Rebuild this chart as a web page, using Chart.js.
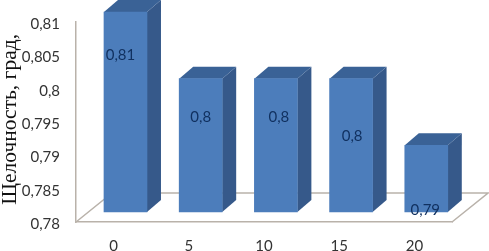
<!DOCTYPE html>
<html><head><meta charset="utf-8">
<style>html,body{margin:0;padding:0;background:#fff}canvas{display:block}</style>
<script src="https://cdn.jsdelivr.net/npm/chart.js@4"></script></head>
<body><canvas id="c" width="489" height="251" style="width:489px;height:251px"></canvas>
<script>
const categories = [0, 5, 10, 15, 20];
const values = [0.81, 0.80, 0.80, 0.80, 0.79];
const valueLabels = ['0,81', '0,8', '0,8', '0,8', '0,79'];
const yTickLabels = ['0,78', '0,785', '0,79', '0,795', '0,8', '0,805', '0,81'];
const yTitle = ' Щелочность, град,';
const labelValuePos = [0.80355, 0.79425, 0.79425, 0.7914, 0.7803];
const labelShift = [-5, 0, 3, 1, -1];

const DX = 14, DY = 12, FLOOR_DX = 36, FLOOR_DY = 29;
const bars3d = {
  id: 'bars3d',
  beforeDatasetsDraw(chart) {
    const {ctx, chartArea: a} = chart;
    ctx.save();
    ctx.strokeStyle = '#b9b2aa'; ctx.lineWidth = 1.5;
    ctx.beginPath();
    ctx.moveTo(a.left, a.bottom);
    ctx.lineTo(a.left + FLOOR_DX, a.bottom - FLOOR_DY);
    ctx.lineTo(a.right + FLOOR_DX, a.bottom - FLOOR_DY);
    ctx.lineTo(a.right, a.bottom);
    ctx.stroke();
    chart.getDatasetMeta(0).data.forEach(b => {
      const l = b.x - b.width / 2, r = b.x + b.width / 2, t = b.y, bt = b.base;
      ctx.fillStyle = '#36598a';
      ctx.beginPath();
      ctx.moveTo(r, t); ctx.lineTo(r + DX, t - DY); ctx.lineTo(r + DX, bt - DY); ctx.lineTo(r, bt);
      ctx.closePath(); ctx.fill();
      ctx.fillStyle = '#3a6296';
      ctx.beginPath();
      ctx.moveTo(l, t); ctx.lineTo(l + DX, t - DY); ctx.lineTo(r + DX, t - DY); ctx.lineTo(r, t);
      ctx.closePath(); ctx.fill();
    });
    ctx.restore();
  },
  afterDatasetsDraw(chart) {
    const {ctx} = chart;
    const y1 = chart.scales.y1;
    ctx.save();
    ctx.fillStyle = '#10305f';
    ctx.font = '15px Lato';
    ctx.textAlign = 'center'; ctx.textBaseline = 'middle';
    chart.getDatasetMeta(0).data.forEach((b, i) => {
      ctx.fillText(valueLabels[i], b.x + labelShift[i], y1.getPixelForValue(labelValuePos[i]));
    });
    ctx.restore();
  }
};
const noPad = s => { s.paddingTop = s.paddingBottom = s.paddingLeft = s.paddingRight = 0; };

new Chart(document.getElementById('c'), {
  type: 'bar',
  data: {
    labels: categories.map(String),
    datasets: [{
      data: categories.map((c, i) => ({x: c, y: values[i]})),
      xAxisID: 'x1', yAxisID: 'y1',
      base: 0.78,
      backgroundColor: '#4c7dbb',
      barThickness: 43,
      clip: false
    }]
  },
  plugins: [bars3d],
  options: {
    responsive: false, animation: false,
    layout: {autoPadding: false, padding: {top: 22, right: 37, left: 0, bottom: 0}},
    plugins: {legend: {display: false}, tooltip: {enabled: false}},
    scales: {
      x: {
        type: 'category', position: 'bottom',
        grid: {display: false, drawTicks: false},
        border: {display: true, color: '#b9b2aa', width: 1.5},
        ticks: {color: '#333', font: {family: 'Lato', size: 15}, padding: 15, maxRotation: 0},
        afterFit(s) { s.height = 29; noPad(s); }
      },
      x1: {type: 'linear', display: false, min: -3.29, max: 21.71, offset: false},
      y: {
        type: 'linear', position: 'left', min: 0.78, max: 0.81,
        grid: {display: false, drawTicks: false},
        border: {display: true, color: '#b9b2aa', width: 1.5},
        afterBuildTicks(s) { s.ticks = yTickLabels.map((_, i) => ({value: 0.78 + i * 0.005})); },
        ticks: {color: '#333', font: {family: 'Lato', size: 15}, padding: 16, labelOffset: 2,
          callback(v, i) { return yTickLabels[i]; }},
        title: {display: true, text: yTitle, color: '#111', padding: {top: -3, bottom: 0},
          font: {family: 'Liberation Serif', size: 21.5}},
        afterFit(s) { s.width = 76; noPad(s); }
      },
      y1: {type: 'linear', display: false, min: 0.7785, max: 0.8085}
    }
  }
});
</script></body></html>
